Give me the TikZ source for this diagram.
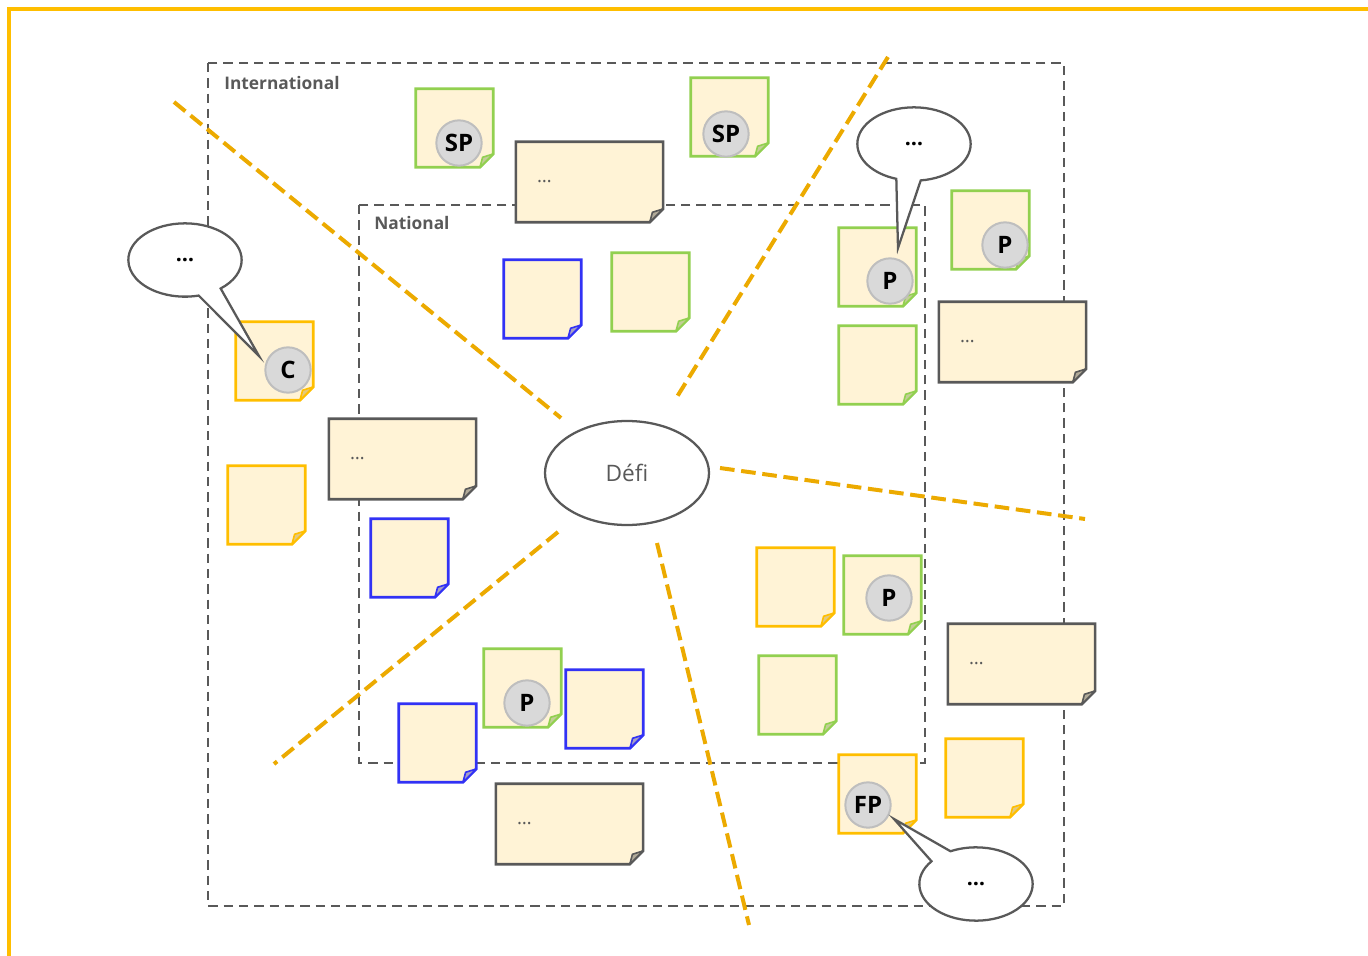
\documentclass[tikz,border=0pt]{standalone}
\usepackage{fontspec}
\setmainfont{Open Sans}
\usepackage{tikz}
\usetikzlibrary{shapes.geometric,shapes.callouts}
\definecolor{frameorange}{RGB}{255,190,0}
\definecolor{lineorange}{RGB}{236,170,0}
\definecolor{notefill}{RGB}{255,243,214}
\definecolor{foldfill}{RGB}{215,205,180}
\definecolor{notegreen}{RGB}{146,208,80}
\definecolor{noteyellow}{RGB}{255,190,0}
\definecolor{noteblue}{RGB}{50,50,245}
\definecolor{darkline}{RGB}{89,89,89}
\definecolor{badgefill}{RGB}{217,217,217}
\definecolor{badgeline}{RGB}{190,190,190}

\begin{document}
\begin{tikzpicture}[x=0.75pt,y=-0.75pt,
    note/.style={rectangle, inner sep=0pt,
        append after command={\pgfextra{
            \filldraw[fill=notefill, draw=#1, line width=\notewidth, line join=miter]
                (\tikzlastnode.north west) -- (\tikzlastnode.north east)
                -- ([yshift=10pt]\tikzlastnode.south east)
                -- ([xshift=-10pt]\tikzlastnode.south east)
                -- (\tikzlastnode.south west) -- cycle;
            \filldraw[fill=#1!30!foldfill, draw=#1, line width=1.2pt, line join=round]
                ([yshift=10pt]\tikzlastnode.south east)
                -- ([xshift=-8pt,yshift=7.5pt]\tikzlastnode.south east)
                -- ([xshift=-10pt]\tikzlastnode.south east) -- cycle;}}},
    smallnote/.style={note=#1, minimum width=57.75pt, minimum height=58.5pt},
    bignote/.style={note=darkline, minimum width=110pt, minimum height=60pt},
    notetext/.style={anchor=west, inner sep=0pt, text=darkline, font=\fontsize{14}{14}\selectfont},
    badge/.style={circle, fill=badgefill, draw=badgeline, line width=1.5pt,
        minimum size=34pt, inner sep=0pt, font=\bfseries\fontsize{18}{18}\selectfont},
    bubble/.style={ellipse callout, draw=darkline, fill=white, line width=1.7pt,
        minimum width=85pt, minimum height=55pt, inner sep=0pt, callout pointer arc=25,
        font=\bfseries\fontsize{16}{16}\selectfont},
    zone/.style={draw=darkline, line width=1.7pt, dash pattern=on 7pt off 4.5pt},
    zonelabel/.style={anchor=north west, inner sep=0pt, text=darkline,
        font=\bfseries\fontsize{13}{13}\selectfont},
    divider/.style={draw=lineorange, line width=3pt, dash pattern=on 11pt off 5pt}]
\def\notewidth{2pt}

\useasboundingbox (0,0) rectangle (1368,956);

% frame
\draw[frameorange, line width=2.6pt] (9,956) -- (9,9) -- (1368,9);

% zones
\draw[zone] (208,63) rectangle (1064,906);
\draw[zone] (359,205) rectangle (925,763);
\node[zonelabel] (intl) at (224,76) {International};
\node[zonelabel] (natl) at (374,216) {National};

% dividers
\draw[divider] (174,102) -- (561,418);
\draw[divider] (888,57) -- (675,400);
\draw[divider] (720,468) -- (1085,519);
\draw[divider] (558,532) -- (274,764);
\draw[divider] (657,543) -- (749,925);

% centre
\node[ellipse, draw=darkline, fill=white, line width=1.7pt, minimum width=123pt,
    minimum height=78pt, text=darkline, font=\fontsize{17}{17}\selectfont] (defi) at (627,473) {Défi};

% small notes
\node[smallnote=notegreen] (sp1) at (454.5,128) {};
\node[smallnote=notegreen] (sp2) at (729.5,117) {};
\node[smallnote=noteblue] (b1) at (542.5,299) {};
\node[smallnote=notegreen] (g1) at (650.5,292) {};
\node[smallnote=notegreen] (p1) at (877.5,267) {};
\node[smallnote=notegreen] (p2) at (990.5,230) {};
\node[smallnote=notegreen] (g2) at (877.5,365) {};
\node[smallnote=noteyellow] (c1) at (274.5,361) {};
\node[smallnote=noteyellow] (y1) at (266.5,505) {};
\node[smallnote=noteblue] (b2) at (409.5,558) {};
\node[smallnote=noteyellow] (y2) at (795.5,587) {};
\node[smallnote=notegreen] (p3) at (882.5,595) {};
\node[smallnote=notegreen] (g3) at (797.5,695) {};
\node[smallnote=notegreen] (p4) at (522.5,688) {};
\node[smallnote=noteblue] (b3) at (604.5,709) {};
\node[smallnote=noteblue] (b4) at (437.5,743) {};
\node[smallnote=noteyellow] (fp1) at (877.5,794) {};
\node[smallnote=noteyellow] (y3) at (984.5,778) {};

% big notes
\node[bignote] (m1) at (589.5,182) {};
\node[bignote] (m2) at (1012.5,342) {};
\node[bignote] (m3) at (402.5,459) {};
\node[bignote] (m4) at (1021.5,664) {};
\node[bignote] (m5) at (569.5,824) {};
\foreach \m in {m1,m2,m3,m4,m5}
    \node[notetext] (\m-text) at ([xshift=15.75pt]\m.west) {…};

% badges
\node[badge] (sp1-badge) at (459,143) {SP};
\node[badge] (sp2-badge) at (726,134) {SP};
\node[badge] (p1-badge) at (890,281) {P};
\node[badge] (p2-badge) at (1005,245) {P};
\node[badge] (c1-badge) at (288,370) {C};
\node[badge] (p3-badge) at (889,598) {P};
\node[badge] (p4-badge) at (527,703) {P};
\node[badge] (fp1-badge) at (868,805) {FP};

% speech bubbles
\coordinate (c1-tip) at (259,356);
\coordinate (p1-tip) at (898,248);
\coordinate (fp1-tip) at (894,819);
\node[bubble, callout absolute pointer={(c1-tip)}] (c1-bubble) at (185,260) {…};
\node[bubble, callout absolute pointer={(p1-tip)}] (p1-bubble) at (914,144) {…};
\node[bubble, callout absolute pointer={(fp1-tip)}] (fp1-bubble) at (976,884) {…};

\end{tikzpicture}
\end{document}
